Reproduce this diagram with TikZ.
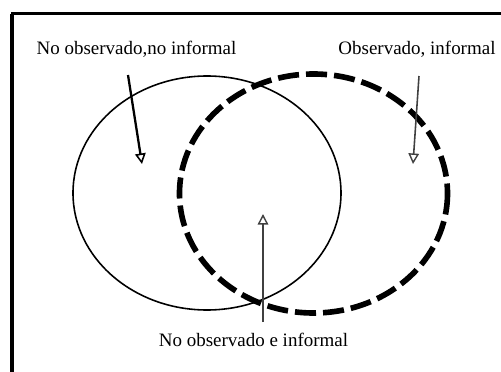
\documentclass[tikz,border=0pt]{standalone}
\usepackage{fontspec}
\setmainfont{Liberation Serif}
\usetikzlibrary{arrows.meta}
\tikzset{
  label/.style={font=\fontsize{10.8}{12}\selectfont,inner sep=0pt},
  pointer/.style={-{Triangle[open,length=6pt,width=6pt,line width=0.9pt]},line width=1.3pt},
  thinpointer/.style={-{Triangle[open,length=6pt,width=6pt,line width=0.8pt]},line width=0.9pt,black!75}
}
\begin{document}
\begin{tikzpicture}[x=0.02cm,y=-0.02cm]
\useasboundingbox (0,0) rectangle (501,372);
% frame
\draw[line width=2.2pt] (12,372) -- (12,13.5);
\draw[line width=1.4pt] (11,13.5) -- (501,13.5);
% the two sets
\draw[line width=0.9pt] (207,193) ellipse [x radius=134, y radius=117];
\draw[line width=3.2pt,dash pattern=on 12pt off 4pt] (313.5,193.5) ellipse [x radius=134, y radius=119.5];
% labels
\node[label] (nono) at (136.5,49) {No observado,no informal};
\node[label] (obs) at (417,49) {Observado, informal};
\node[label] (noinf) at (253.5,340) {No observado e informal};
\coordinate (a) at (128,75);
\coordinate (b) at (419,76);
\coordinate (c) at (263,322);
\draw[pointer] (a) -- (142,164);
\draw[thinpointer] (b) -- (413,164);
\draw[thinpointer] (c) -- (263,214);
\end{tikzpicture}
\end{document}
